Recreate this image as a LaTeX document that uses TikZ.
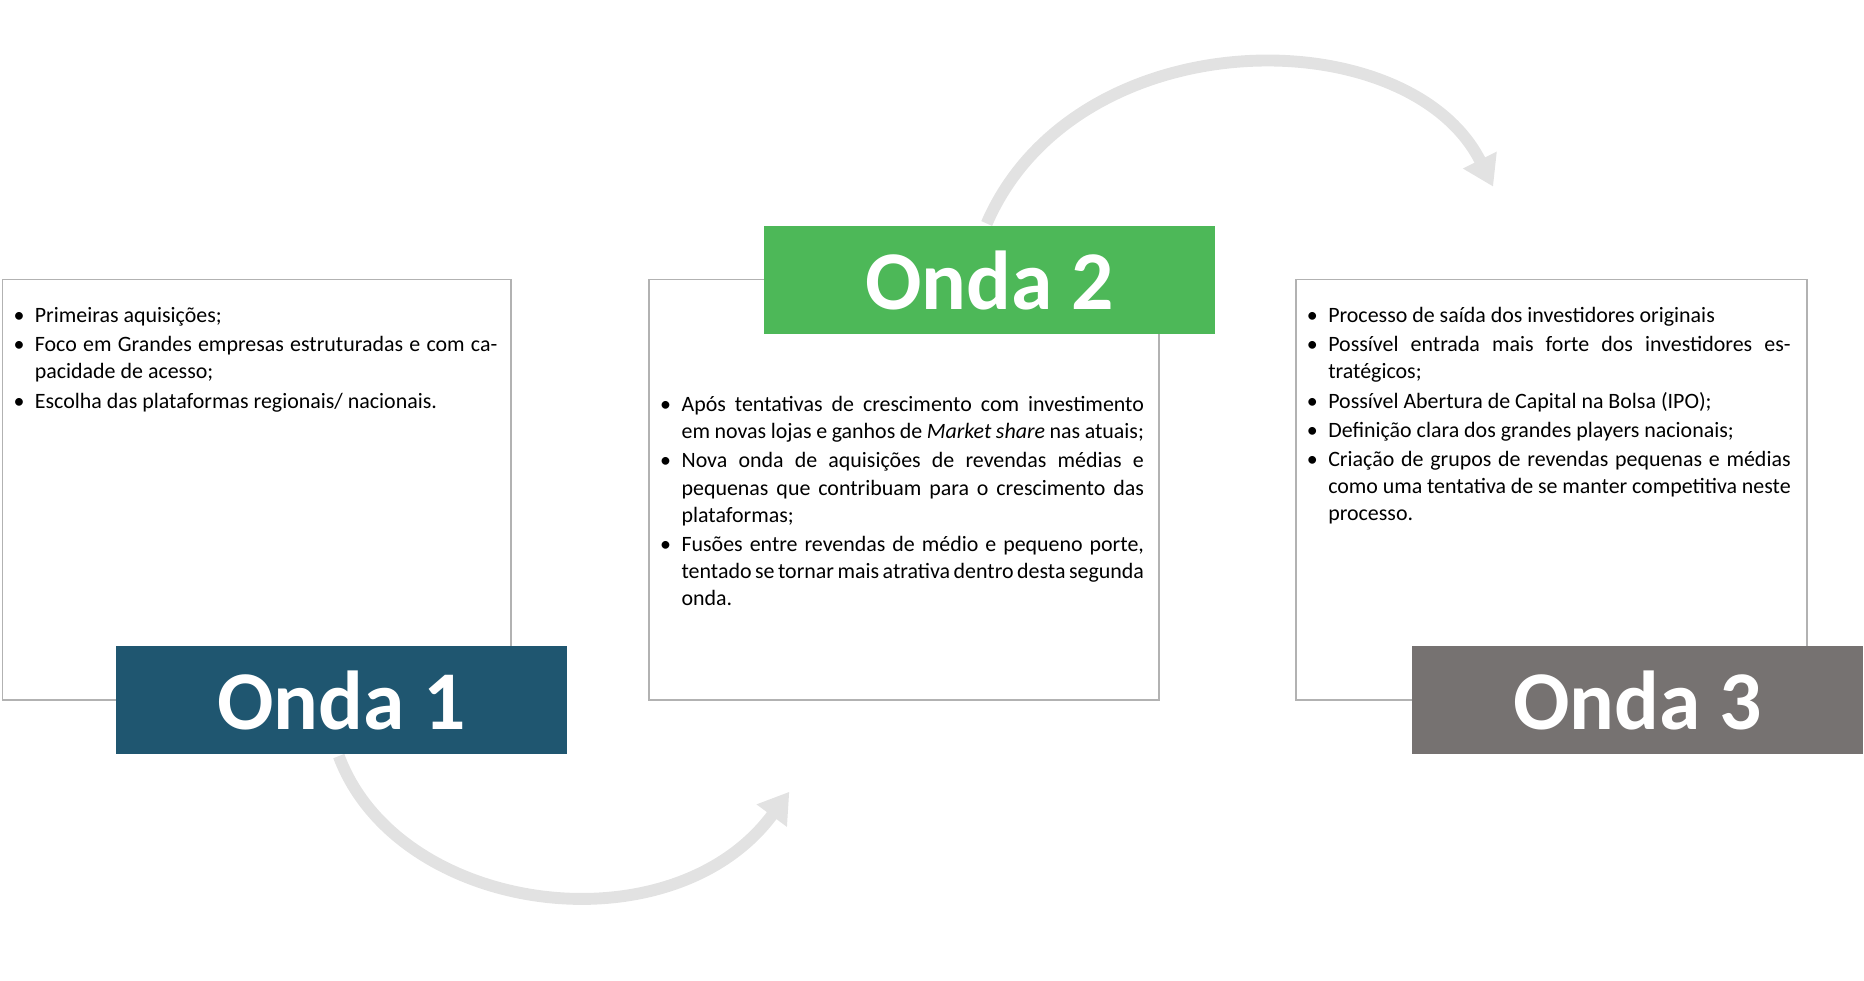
\documentclass[tikz,border=0pt]{standalone}
\usepackage{fontspec}
\setmainfont{Carlito}
\usepackage{enumitem}
\usetikzlibrary{arrows.meta,positioning}
\definecolor{ondaA}{HTML}{1F5670}
\definecolor{ondaB}{HTML}{4DB858}
\definecolor{ondaC}{HTML}{767271}
\definecolor{arc}{HTML}{E2E2E2}
\tikzset{
  panel/.style={draw=black!30, fill=white, line width=0.8pt},
  onda/.style={anchor=north west, minimum width=7.6cm, minimum height=1.82cm, inner sep=0pt, text=white, font=\fontsize{40}{44}\selectfont\bfseries},
  bullets/.style={anchor=north west, align=justify, inner sep=0pt, text width=8.06cm, font=\fontsize{10.5}{13}\selectfont},
  flow/.style={arc, line width=0.2cm, -{Triangle[width=0.6cm,length=0.5cm]}}
}
\setlist[itemize]{leftmargin=0.28cm, itemsep=1pt, topsep=0pt, parsep=0pt, label=\textbullet}
\begin{document}
\begin{tikzpicture}[x=0.02cm, y=-0.02cm]
\useasboundingbox (0,0) rectangle (1568,825);
% Arrows
\draw[flow] (285,636) .. controls (335,770) and (565,800) .. (664,666);
\draw[flow] (830,188) .. controls (905,15) and (1185,15) .. (1256,157);
% Panels
\draw[panel] (2,235) rectangle (430,589);
\draw[panel] (546,235) rectangle (975,589);
\draw[panel] (1090,235) rectangle (1520,589);
% Titles
\node[onda, fill=ondaA] (onda1) at (97,543) {Onda 1};
\node[onda, fill=ondaB] (onda2) at (642,190) {Onda 2};
\node[onda, fill=ondaC] (onda3) at (1187,543) {Onda 3};
% Texts
\node[bullets] (text1) at (15,248) {\begin{itemize}
\item Primeiras aquisições;
\item Foco em Grandes empresas estruturadas e com capacidade de acesso;
\item Escolha das plataformas regionais/ nacionais.
\end{itemize}};
\node[bullets] (text2) at (559,323) {\begin{itemize}
\item Após tentativas de crescimento com investimento em novas lojas e ganhos de \textit{Market share} nas atuais;
\item Nova onda de aquisições de revendas médias e pequenas que contribuam para o crescimento das plataformas;
\item Fusões entre revendas de médio e pequeno porte, tentado se tornar mais atrativa dentro desta segunda onda.
\end{itemize}};
\node[bullets] (text3) at (1103,248) {\begin{itemize}
\item Processo de saída dos investidores originais
\item Possível entrada mais forte dos investidores estratégicos;
\item Possível Abertura de Capital na Bolsa (IPO);
\item Definição clara dos grandes players nacionais;
\item Criação de grupos de revendas pequenas e médias como uma tentativa de se manter competitiva neste processo.
\end{itemize}};
\end{tikzpicture}
\end{document}
